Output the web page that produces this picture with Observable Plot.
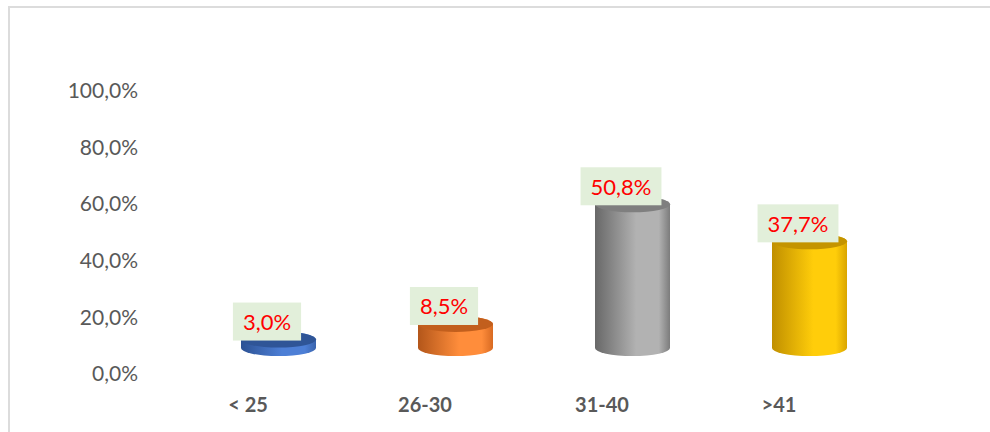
<!DOCTYPE html>
<html><head><meta charset="utf-8">
<script src="https://cdn.jsdelivr.net/npm/d3@7"></script>
<script src="https://cdn.jsdelivr.net/npm/@observablehq/plot@0.6"></script>
<style>
body{margin:0;background:#fff;overflow:hidden;}
#frame{position:absolute;left:8px;top:6px;width:990px;height:440px;border-left:2px solid #dcdcdc;border-top:2px solid #dcdcdc;}
#chart{position:absolute;left:0;top:0;}
</style></head><body><div id="frame"></div><div id="chart"></div>
<script>
const categories = ["< 25", "26-30", "31-40", ">41"];
const values = [3.0, 8.5, 50.8, 37.7];
const valueLabels = ["3,0%", "8,5%", "50,8%", "37,7%"];
const yTicks = [0, 20, 40, 60, 80, 100];
const bodyDark = ["#2c5294", "#b3561a", "#686868", "#c08f00"];
const bodyLight = ["#4d7fd6", "#ff8d3b", "#b2b2b2", "#ffcd0a"];
const bodyEdge = ["#3a64ad", "#d86a22", "#7c7c7c", "#d9a500"];
const capColors = ["#2f5597", "#c25f1d", "#7f7f7f", "#c49400"];

const data = categories.map((c, i) => ({cat: c, value: values[i], label: valueLabels[i], i}));

const base = -26; // 3D floor offset
const chart = Plot.plot({
  width: 990,
  height: 432,
  marginLeft: 189.5,
  marginRight: 92.5,
  marginTop: 91,
  marginBottom: 58,
  style: {color: "#595959", fontFamily: "Lato, 'Open Sans', sans-serif", background: "transparent"},
  x: {domain: categories, padding: 0, label: null},
  y: {domain: [0, 100], label: null},
  color: {type: "identity"},
  marks: [
    Plot.axisY({ticks: yTicks, tickSize: 0, tickPadding: 52, fontSize: 21,
      tickFormat: d => d.toFixed(1).replace(".", ",") + "%", label: null}),
    Plot.axisX({tickSize: 0, tickPadding: 23, dx: -31, fontSize: 20, fontWeight: "bold", label: null}),
    Plot.barY(data, {x: "cat", y: "value", fill: d => `url(#body${d.i})`,
      insetLeft: 51, insetRight: 51, insetTop: -8, insetBottom: -8, rx: 37.5, ry: 8, dy: base}),
    Plot.rectY(data, {x: "cat", y1: "value", y2: "value", fill: d => capColors[d.i],
      insetLeft: 51, insetRight: 51, insetTop: -8, insetBottom: -8, rx: 37.5, ry: 8, dy: base}),
    Plot.text(data, {x: "cat", y: "value", text: "label", fill: "#ff0000", fontSize: 22,
      dx: -12, dy: base - 17})
  ]
});
document.getElementById("chart").append(chart);

const svg = d3.select(chart);
const defs = svg.insert("defs", ":first-child");
categories.forEach((c, i) => {
  const g = defs.append("linearGradient").attr("id", `body${i}`).attr("x1", 0).attr("x2", 1).attr("y1", 0).attr("y2", 0);
  g.append("stop").attr("offset", "0%").attr("stop-color", bodyDark[i]);
  g.append("stop").attr("offset", "55%").attr("stop-color", bodyLight[i]);
  g.append("stop").attr("offset", "85%").attr("stop-color", bodyLight[i]);
  g.append("stop").attr("offset", "100%").attr("stop-color", bodyEdge[i]);
});
svg.selectAll("text").filter(function () { return valueLabels.includes(this.textContent); }).each(function () {
  const b = this.getBBox();
  const t = this.getAttribute("transform") || "";
  d3.select(this.parentNode).insert("rect", () => this)
    .attr("transform", t)
    .attr("x", b.x - 10).attr("y", b.y + b.height / 2 - 19)
    .attr("width", b.width + 20).attr("height", 38)
    .attr("fill", "#e2efda");
});
</script></body></html>
